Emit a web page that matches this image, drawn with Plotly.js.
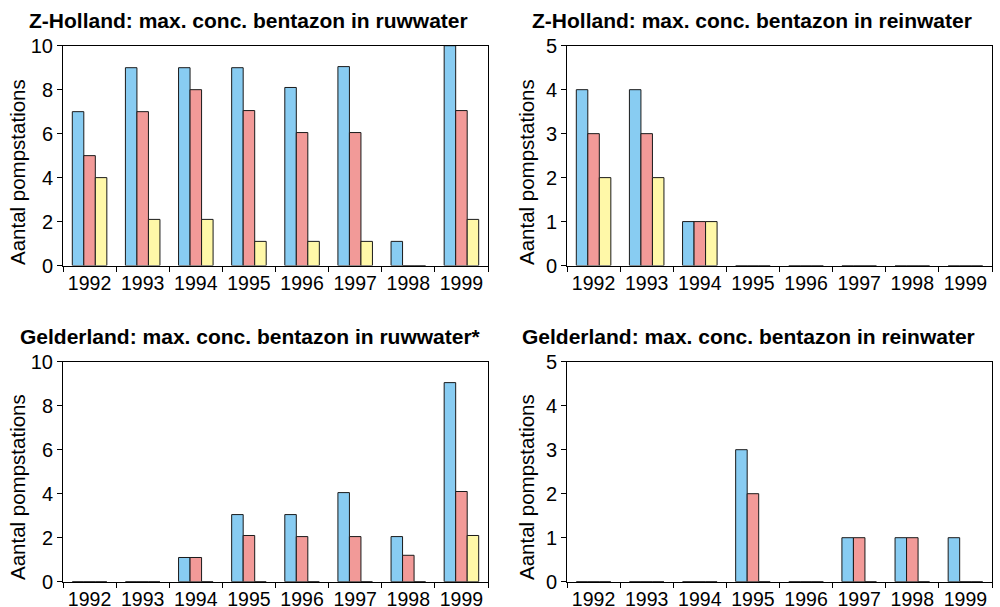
<!DOCTYPE html>
<html>
<head>
<meta charset="utf-8">
<script src="https://cdn.plot.ly/plotly-3.0.1.min.js"></script>
<style>html,body{margin:0;padding:0;background:#fff}#chart{width:1000px;height:607px}</style>
</head>
<body>
<div id="chart"></div>
<script>
const years = ['1992','1993','1994','1995','1996','1997','1998','1999'];

// Z-Holland ruwwater
const zhRuwBlue   = [7, 9, 9, 9, 8.1, 9.05, 1.1, 10];
const zhRuwPink   = [5, 7, 8, 7.05, 6.05, 6.05, 0, 7.05];
const zhRuwYellow = [4, 2.1, 2.1, 1.1, 1.1, 1.1, 0, 2.1];

// Z-Holland reinwater
const zhReinBlue   = [4, 4, 1, 0, 0, 0, 0, 0];
const zhReinPink   = [3, 3, 1, 0, 0, 0, 0, 0];
const zhReinYellow = [2, 2, 1, 0, 0, 0, 0, 0];

// Gelderland ruwwater
const geRuwBlue   = [0, 0, 1.1, 3.05, 3.05, 4.05, 2.05, 9.05];
const geRuwPink   = [0, 0, 1.1, 2.1, 2.05, 2.05, 1.2, 4.1];
const geRuwYellow = [0, 0, 0, 0, 0, 0, 0, 2.1];

// Gelderland reinwater
const geReinBlue   = [0, 0, 0, 3, 0, 1, 1, 1];
const geReinPink   = [0, 0, 0, 2, 0, 1, 1, 0];
const geReinYellow = [0, 0, 0, 0, 0, 0, 0, 0];

const titles = [
  'Z-Holland: max. conc. bentazon in ruwwater',
  'Z-Holland: max. conc. bentazon in reinwater',
  'Gelderland: max. conc. bentazon in ruwwater*',
  'Gelderland: max. conc. bentazon in reinwater'
];
const yTitle = 'Aantal pompstations';

const colors = ['#88CCF2', '#F29A98', '#FFF8A8'];
const FONT = 'Liberation Sans, Arial, Helvetica, sans-serif';

const panels = [
  {series: [zhRuwBlue, zhRuwPink, zhRuwYellow], xa: 'x', ya: 'y'},
  {series: [zhReinBlue, zhReinPink, zhReinYellow], xa: 'x2', ya: 'y2'},
  {series: [geRuwBlue, geRuwPink, geRuwYellow], xa: 'x3', ya: 'y3'},
  {series: [geReinBlue, geReinPink, geReinYellow], xa: 'x4', ya: 'y4'}
];

const data = [];
panels.forEach(p => {
  p.series.forEach((vals, i) => {
    data.push({
      type: 'bar', x: years, y: vals, xaxis: p.xa, yaxis: p.ya,
      marker: {color: colors[i], line: {color: '#1a1a1a', width: 1}},
      showlegend: false, hoverinfo: 'x+y'
    });
  });
});

function xax(domain, anchor) {
  return {
    domain: domain, anchor: anchor, type: 'category',
    tickmode: 'array', tickvals: years, ticktext: years, tickangle: 0,
    showline: true, linecolor: '#000', linewidth: 1, mirror: true,
    ticks: 'outside', tickson: 'boundaries', ticklen: 5, tickcolor: '#000',
    showgrid: false, zeroline: false,
    tickfont: {family: FONT, size: 19.5, color: '#000'}
  };
}
function yax(domain, anchor, max, dtick) {
  return {
    domain: domain, anchor: anchor, range: [0, max], dtick: dtick, tick0: 0,
    showline: true, linecolor: '#000', linewidth: 1, mirror: true,
    ticks: 'outside', ticklen: 5, tickcolor: '#000',
    showgrid: false, zeroline: false,
    tickfont: {family: FONT, size: 20, color: '#000'}
  };
}

const xL = [0.063, 0.488], xR = [0.567, 0.992];
const yT = [0.5625, 0.9247], yB = [0.0417, 0.4041];

const titleAnn = [
  {text: '<b>' + titles[0] + '</b>', x: 0.248, y: 1 - 21/607},
  {text: '<b>' + titles[1] + '</b>', x: 0.752, y: 1 - 21/607},
  {text: '<b>' + titles[2] + '</b>', x: 0.250, y: 1 - 337/607},
  {text: '<b>' + titles[3] + '</b>', x: 0.748, y: 1 - 337/607}
].map(a => Object.assign(a, {
  xref: 'paper', yref: 'paper', showarrow: false, xanchor: 'center', yanchor: 'middle',
  font: {family: FONT, size: 21, color: '#000'}
}));

const yTitleAnn = [
  {x: 0.017, y: 1 - 172/607},
  {x: 0.526, y: 1 - 172/607},
  {x: 0.017, y: 1 - 487/607},
  {x: 0.526, y: 1 - 487/607}
].map(a => Object.assign(a, {
  text: yTitle, textangle: -90,
  xref: 'paper', yref: 'paper', showarrow: false, xanchor: 'center', yanchor: 'middle',
  font: {family: FONT, size: 20.5, color: '#000'}
}));

const layout = {
  width: 1000, height: 607,
  margin: {l: 0, r: 0, t: 0, b: 0},
  paper_bgcolor: '#fff', plot_bgcolor: '#fff',
  barmode: 'group', bargap: 0.35, bargroupgap: 0,
  font: {family: FONT, color: '#000'},
  xaxis: xax(xL, 'y'), yaxis: yax(yT, 'x', 10, 2),
  xaxis2: xax(xR, 'y2'), yaxis2: yax(yT, 'x2', 5, 1),
  xaxis3: xax(xL, 'y3'), yaxis3: yax(yB, 'x3', 10, 2),
  xaxis4: xax(xR, 'y4'), yaxis4: yax(yB, 'x4', 5, 1),
  annotations: titleAnn.concat(yTitleAnn)
};

Plotly.newPlot('chart', data, layout, {displayModeBar: false, staticPlot: true});
</script>
</body>
</html>
